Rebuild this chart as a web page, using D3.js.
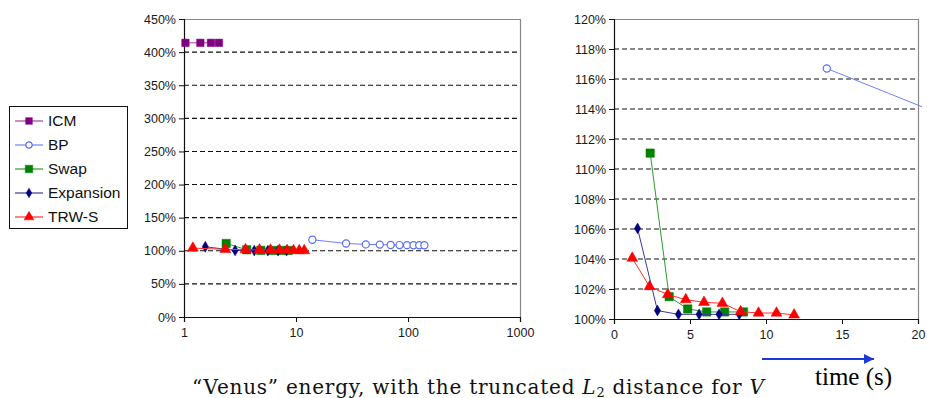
<!DOCTYPE html>
<html>
<head>
<meta charset="utf-8">
<script src="https://cdn.jsdelivr.net/npm/d3@7"></script>
<style>
  body { margin: 0; background: #fff; }
  svg { display: block; }
</style>
</head>
<body>
<svg id="chart" width="927" height="398"></svg>
<script>
// series values (time in s, energy in %)
const icmTime = [1.03, 1.4, 1.74, 2.05];
const icmEnergy = [414, 414, 414, 414];
const bpTime = [14, 28, 42, 56, 70, 84, 98, 112, 126, 140];
const bpEnergy = [116.7, 111.0, 109.6, 109.3, 108.7, 108.6, 108.5, 108.4, 108.4, 108.3];
const swapTime = [2.38, 3.63, 4.85, 6.1, 7.28, 8.52];
const swapEnergy = [111.06, 101.49, 100.67, 100.47, 100.47, 100.47];
const expTime = [1.55, 2.86, 4.24, 5.6, 6.91, 8.24];
const expEnergy = [106.04, 100.56, 100.31, 100.31, 100.31, 100.31];
const trwTime = [1.2, 2.34, 3.54, 4.72, 5.92, 7.13, 8.33, 9.51, 10.69, 11.85];
const trwEnergy = [104.06, 102.16, 101.63, 101.29, 101.11, 101.05, 100.49, 100.4, 100.4, 100.27];

const seriesNames = ['ICM', 'BP', 'Swap', 'Expansion', 'TRW-S'];

// tick labels
const leftYTicks = [0, 50, 100, 150, 200, 250, 300, 350, 400, 450];
const leftXTicks = [1, 10, 100, 1000];
const rightYTicks = [100, 102, 104, 106, 108, 110, 112, 114, 116, 118, 120];
const rightXTicks = [0, 5, 10, 15, 20];

const zip = (xs, ys) => xs.map((x, i) => ({x: x, y: ys[i]}));

const series = [
  {name: 'ICM', data: zip(icmTime, icmEnergy), color: '#800080', line: '#a040a0', symbol: d3.symbolSquare, size: 56, open: false},
  {name: 'BP', data: zip(bpTime, bpEnergy), color: '#5a6cf5', line: '#6f80ff', symbol: d3.symbolCircle, size: 40, open: true},
  {name: 'Swap', data: zip(swapTime, swapEnergy), color: '#008000', line: '#2e9a2e', symbol: d3.symbolSquare, size: 70, open: false},
  {name: 'Expansion', data: zip(expTime, expEnergy), color: '#000080', line: '#3a3a9a', symbol: d3.symbolDiamond, size: 34, open: false},
  {name: 'TRW-S', data: zip(trwTime, trwEnergy), color: '#ff0000', line: '#ff3030', symbol: d3.symbolTriangle, size: 52, open: false}
];

const svg = d3.select('#chart');
const tickFont = '"Liberation Sans", Arial, sans-serif';

function drawPanel(opts) {
  const x = opts.x, y = opts.y;
  const [x0, x1] = x.range();
  const [y0, y1] = y.range();
  const g = svg.append('g');

  // dashed grid
  g.selectAll('.grid')
    .data(opts.yTicks.slice(1, -1))
    .enter()
    .append('line')
    .attr('x1', x0).attr('x2', x1)
    .attr('y1', d => y(d)).attr('y2', d => y(d))
    .attr('stroke', '#111')
    .attr('stroke-dasharray', '5,3')
    .attr('stroke-width', 1.1);

  // plot border (top, right)
  g.append('path')
    .attr('d', `M${x0},${y1 + 0.5}H${x1 + 0.5}V${y0}`)
    .attr('fill', 'none')
    .attr('stroke', '#888')
    .attr('stroke-width', 1.2);

  const yAxis = d3.axisLeft(y).tickValues(opts.yTicks).tickSize(5).tickPadding(3)
    .tickFormat(d => d + '%');
  const xAxis = d3.axisBottom(x).tickValues(opts.xTicks).tickSize(5).tickPadding(6)
    .tickFormat(d => d);

  const ya = g.append('g').attr('transform', `translate(${x0},0)`).call(yAxis);
  const xa = g.append('g').attr('transform', `translate(0,${y0})`).call(xAxis);
  [ya, xa].forEach(a => {
    a.select('.domain').attr('stroke', '#111').attr('stroke-width', 1.2);
    a.selectAll('.tick line').attr('stroke', '#111');
    a.selectAll('text').attr('fill', '#1a1a1a').style('font-family', tickFont).style('font-size', '12.5px');
  });

  // clip for data
  const clipId = 'clip' + opts.id;
  svg.append('clipPath').attr('id', clipId)
    .append('rect')
    .attr('x', x0 - 10).attr('y', y1 - 10)
    .attr('width', opts.clipRight - x0 + 10).attr('height', y0 - y1 + 16);

  const dg = g.append('g').attr('clip-path', `url(#${clipId})`);
  const line = d3.line().x(d => x(d.x)).y(d => y(d.y));

  series.forEach(s => {
    dg.append('path')
      .datum(s.data)
      .attr('d', line)
      .attr('fill', 'none')
      .attr('stroke', s.line)
      .attr('stroke-width', 1);
    dg.selectAll(null)
      .data(s.data)
      .enter()
      .append('path')
      .attr('d', d3.symbol().type(s.symbol).size(s.size))
      .attr('transform', d => `translate(${x(d.x)},${y(d.y)})`)
      .attr('fill', s.open ? '#fff' : s.color)
      .attr('stroke', s.color)
      .attr('stroke-width', s.open ? 1.2 : 0.5);
  });
}

drawPanel({
  id: 'L',
  x: d3.scaleLog().domain([1, 1000]).range([184, 520]),
  y: d3.scaleLinear().domain([0, 450]).range([317, 19]),
  xTicks: leftXTicks, yTicks: leftYTicks, clipRight: 530
});

drawPanel({
  id: 'R',
  x: d3.scaleLinear().domain([0, 20]).range([614, 918]),
  y: d3.scaleLinear().domain([100, 120]).range([319, 19]),
  xTicks: rightXTicks, yTicks: rightYTicks, clipRight: 922
});

// legend
const legend = svg.append('g');
legend.append('rect')
  .attr('x', 9.5).attr('y', 106.5).attr('width', 118).attr('height', 122)
  .attr('fill', '#fff').attr('stroke', '#111').attr('stroke-width', 1);

const ly = d3.scalePoint().domain(seriesNames).range([121, 217]);
series.forEach(s => {
  const yy = ly(s.name);
  legend.append('line')
    .attr('x1', 15).attr('x2', 43).attr('y1', yy).attr('y2', yy)
    .attr('stroke', s.line).attr('stroke-width', 1.2);
  legend.append('path')
    .attr('d', d3.symbol().type(s.symbol).size(s.size * 0.8))
    .attr('transform', `translate(29,${yy})`)
    .attr('fill', s.open ? '#fff' : s.color)
    .attr('stroke', s.color)
    .attr('stroke-width', s.open ? 1.2 : 0.5);
  legend.append('text')
    .attr('x', 48).attr('y', yy)
    .attr('dy', '0.35em')
    .attr('fill', '#111')
    .style('font-family', tickFont)
    .style('font-size', '15.5px')
    .text(s.name);
});

// time arrow
svg.append('defs').append('marker')
  .attr('id', 'arrowHead')
  .attr('viewBox', '0 0 10 10')
  .attr('refX', 10).attr('refY', 5)
  .attr('markerWidth', 6).attr('markerHeight', 5)
  .attr('markerUnits', 'strokeWidth')
  .attr('orient', 'auto')
  .append('path')
  .attr('d', 'M0,0L10,5L0,10Z')
  .attr('fill', '#1a3ad6');

svg.append('line')
  .attr('x1', 762).attr('x2', 874).attr('y1', 359).attr('y2', 359)
  .attr('stroke', '#1a3ad6').attr('stroke-width', 2)
  .attr('marker-end', 'url(#arrowHead)');

svg.append('text')
  .attr('x', 815).attr('y', 385)
  .style('font-family', '"Liberation Serif", "Times New Roman", serif')
  .style('font-size', '25px')
  .attr('fill', '#000')
  .text('time (s)');

// caption (the reference cuts its descenders at the bottom edge)
const cap = svg.append('text')
  .attr('x', 192).attr('y', 394)
  .attr('textLength', 572)
  .attr('lengthAdjust', 'spacing')
  .style('font-family', '"DejaVu Serif", serif')
  .style('font-size', '20px')
  .attr('fill', '#111');
cap.append('tspan').text('\u201CVenus\u201D energy, with the truncated ');
cap.append('tspan').style('font-style', 'italic').text('L');
cap.append('tspan').attr('dy', 3).style('font-size', '13px').text('2');
cap.append('tspan').attr('dy', -3).text(' distance for ');
cap.append('tspan').style('font-style', 'italic').text('V');
</script>
</body>
</html>
